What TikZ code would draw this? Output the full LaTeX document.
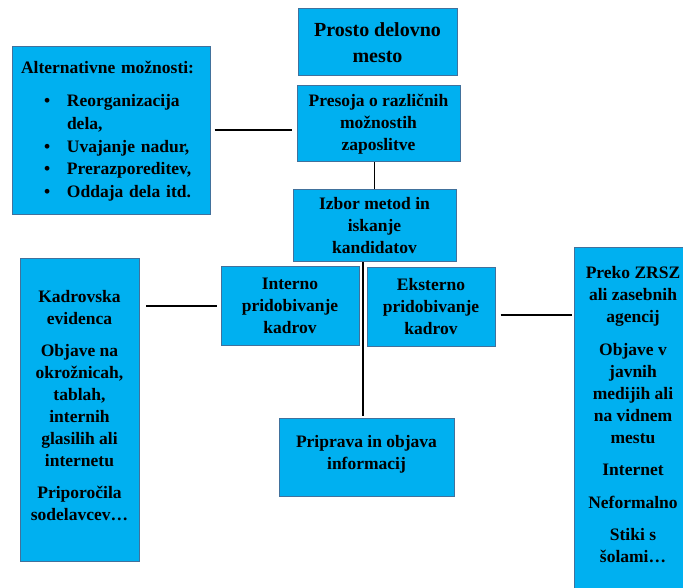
\documentclass[tikz,border=0pt]{standalone}
\usepackage{fontspec}
\setmainfont{Liberation Serif}
\usetikzlibrary{calc}
\definecolor{boxblue}{RGB}{0,176,240}
\definecolor{boxedge}{RGB}{65,113,156}

\begin{document}
\begin{tikzpicture}[x=1pt,y=-1pt,
  box/.style={draw=boxedge,line width=1pt,fill=boxblue,inner sep=0pt,align=center,
    font=\bfseries\fontsize{17.5}{22}\selectfont},
  link/.style={line width=1.8pt}]
\useasboundingbox (0,0) rectangle (683,588);
\clip (0,0) rectangle (683,588);
% main column
\node[box,minimum width=159pt,minimum height=67pt,font=\bfseries\fontsize{20}{26}\selectfont] (prosto) at (377.5,42.5) {Prosto delovno\\mesto};
\node[box,minimum width=163pt,minimum height=76pt] (presoja) at (378.5,124) {Presoja o različnih\\možnostih\\zaposlitve};
\node[box,minimum width=163pt,minimum height=72pt] (izbor) at (374.5,226) {Izbor metod in\\iskanje\\kandidatov};
\node[box,minimum width=138pt,minimum height=78pt] (interno) at (290,306) {Interno\\pridobivanje\\kadrov};
\node[box,minimum width=128pt,minimum height=78pt] (eksterno) at (431,307) {Eksterno\\pridobivanje\\kadrov};
\node[box,minimum width=175pt,minimum height=78pt] (priprava) at (366.5,457) {Priprava in objava\\informacij\rule[-9pt]{0pt}{9pt}};
% side boxes
\node[box,minimum width=198pt,minimum height=168pt,text width=180pt,align=left,
  font=\bfseries\fontsize{17.5}{22.7}\selectfont] (alt) at (111,131)
  {Alternativne možnosti:\\[11pt]
   \hspace*{23pt}\makebox[23pt][l]{\textbullet}Reorganizacija\\
   \hspace*{46pt}dela,\\
   \hspace*{23pt}\makebox[23pt][l]{\textbullet}Uvajanje nadur,\\
   \hspace*{23pt}\makebox[23pt][l]{\textbullet}Prerazporeditev,\\
   \hspace*{23pt}\makebox[23pt][l]{\textbullet}Oddaja dela itd.};
\node[box,minimum width=119pt,minimum height=302pt] (kadrovska) at (79.5,410)
  {Kadrovska\\evidenca\\[10pt]Objave na\\okrožnicah,\\tablah,\\internih\\glasilih ali\\internetu\\[10pt]Priporočila\\sodelavcev…\rule[-10pt]{0pt}{10pt}};
\node[box,minimum width=118pt,minimum height=352pt] (zrsz) at (633,424)
  {Preko ZRSZ\\ali zasebnih\\agencij\\[10.5pt]Objave v\\javnih\\medijih ali\\na vidnem\\mestu\\[10.5pt]Internet\\[10.5pt]Neformalno\\[10.5pt]Stiki s\\šolami…\rule[-19pt]{0pt}{19pt}};
% connectors
\coordinate (mid) at ($(interno.east)!.5!(eksterno.west)$);
\draw[link] ([xshift=4pt,yshift=1pt]alt.east) -- ([xshift=-5pt,yshift=1pt]alt.east -| presoja.west);
\draw[link] (presoja.south -| izbor.north) -- (izbor.north);
\draw[link,shorten >=2pt] (mid |- izbor.south) -- (mid |- priprava.north);
\draw[link] ([xshift=-4pt]interno.west) -- ([xshift=6pt]interno.west -| kadrovska.east);
\draw[link] ([xshift=5pt,yshift=-8pt]eksterno.east) -- ([xshift=-2pt,yshift=-8pt]eksterno.east -| zrsz.west);
\end{tikzpicture}
\end{document}
